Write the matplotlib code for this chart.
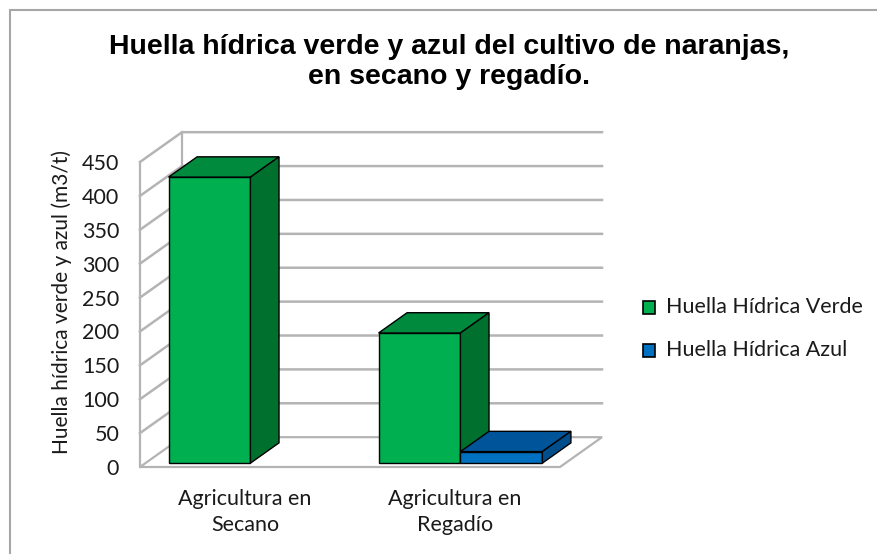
import matplotlib
matplotlib.use("Agg")
import matplotlib.pyplot as plt
from matplotlib.patches import Polygon, Rectangle
import numpy as np

# Datos del gráfico
categorias = ["Agricultura en\nSecano", "Agricultura en\nRegadío"]
huella_verde = [422, 192]
huella_azul = [0, 17]
series = ["Huella Hídrica Verde", "Huella Hídrica Azul"]
ticks_y = [0, 50, 100, 150, 200, 250, 300, 350, 400, 450]

# Colores (frente, arriba, lado)
verde = ("#00b050", "#008a3e", "#00702f")
azul = ("#0070c0", "#00559a", "#004f8c")

fuente = "Lato"
color_texto = "#1a1a1a"

fig = plt.figure(figsize=(8.77, 5.54), dpi=100)
W, H = 877, 554

# marco del gráfico
fig.patches.append(Rectangle((10 / W, -0.1), 1.2, 1 - 10 / H + 0.1, transform=fig.transFigure,
                             fill=False, edgecolor="#a6a6a6", linewidth=1.5))

# ejes en el plano frontal
ax = fig.add_axes([140 / W, 1 - 467 / H, 420 / W, 305 / H])
ax.set_xlim(0, 2)
ax.set_ylim(0, 450)
for s in ax.spines.values():
    s.set_visible(False)
ax.patch.set_alpha(0)

# profundidad en unidades de datos
dx, dy = 0.2, 44.0
grid_col = "#b4b4b4"

# suelo
ax.add_patch(Polygon([(0, 0), (2, 0), (2 + dx, dy), (dx, dy)], closed=True, facecolor="white",
                     edgecolor=grid_col, linewidth=1.6, clip_on=False, zorder=1))
# lineas de la pared lateral y de fondo
ax.plot([0, 0], [0, 450], color=grid_col, lw=1.6, clip_on=False, zorder=1)
ax.plot([dx, dx], [dy, 450 + dy], color=grid_col, lw=1.6, clip_on=False, zorder=1)
for v in ticks_y[1:]:
    ax.plot([0, dx, 2 + dx], [v, v + dy, v + dy], color=grid_col, lw=1.8, clip_on=False, zorder=1)

# barras 3D
ancho = 0.39
f0, prof = 0.13, 0.68
x = np.arange(len(categorias)) + 0.5
for i, (vals, cols) in enumerate([(huella_verde, verde), (huella_azul, azul)]):
    xs = x - ancho + i * ancho + f0 * dx
    base = f0 * dy
    for xi, v in zip(xs, vals):
        if v <= 0:
            continue
        ax.bar(xi, v, width=ancho, bottom=base, align="edge", color=cols[0],
               edgecolor="black", linewidth=1.0, zorder=3, clip_on=False)
        top = base + v
        ax.add_patch(Polygon([(xi, top), (xi + ancho, top), (xi + ancho + prof * dx, top + prof * dy),
                              (xi + prof * dx, top + prof * dy)], closed=True, facecolor=cols[1],
                             edgecolor="black", linewidth=1.0, zorder=3, clip_on=False))
        ax.add_patch(Polygon([(xi + ancho, base), (xi + ancho, top), (xi + ancho + prof * dx, top + prof * dy),
                              (xi + ancho + prof * dx, base + prof * dy)], closed=True, facecolor=cols[2],
                             edgecolor="black", linewidth=1.0, zorder=3, clip_on=False))

ax.set_yticks(ticks_y)
ax.set_yticklabels([str(t) for t in ticks_y], fontsize=15.5, family=fuente, color=color_texto)
ax.tick_params(axis="y", length=0, pad=15)
ax.set_xticks(x)
ax.set_xticklabels(categorias, fontsize=15.5, family=fuente, color=color_texto, linespacing=1.35)
ax.tick_params(axis="x", length=0, pad=16)

fig.text(62 / W, 1 - 302 / H, "Huella hídrica verde y azul (m3/t)", rotation=90, ha="center", va="center",
         fontsize=15, family=fuente, color=color_texto)

fig.text(449 / W, 1 - 62 / H, "Huella hídrica verde y azul del cultivo de naranjas,\nen secano y regadío.",
         ha="center", va="center", fontsize=20.5, fontweight="bold", family="Liberation Sans",
         color="black", linespacing=1.15)

# leyenda
for j, (nombre, cols) in enumerate(zip(series, [verde, azul])):
    yy = 1 - (307 + j * 43) / H
    fig.patches.append(Rectangle((643 / W, yy - 6.5 / H), 12 / W, 13 / H, transform=fig.transFigure,
                                 facecolor=cols[0], edgecolor="black", linewidth=1.2))
    fig.text(666 / W, yy, nombre, ha="left", va="center", fontsize=15.5, family=fuente, color=color_texto)

fig.savefig("out.png", dpi=100)
